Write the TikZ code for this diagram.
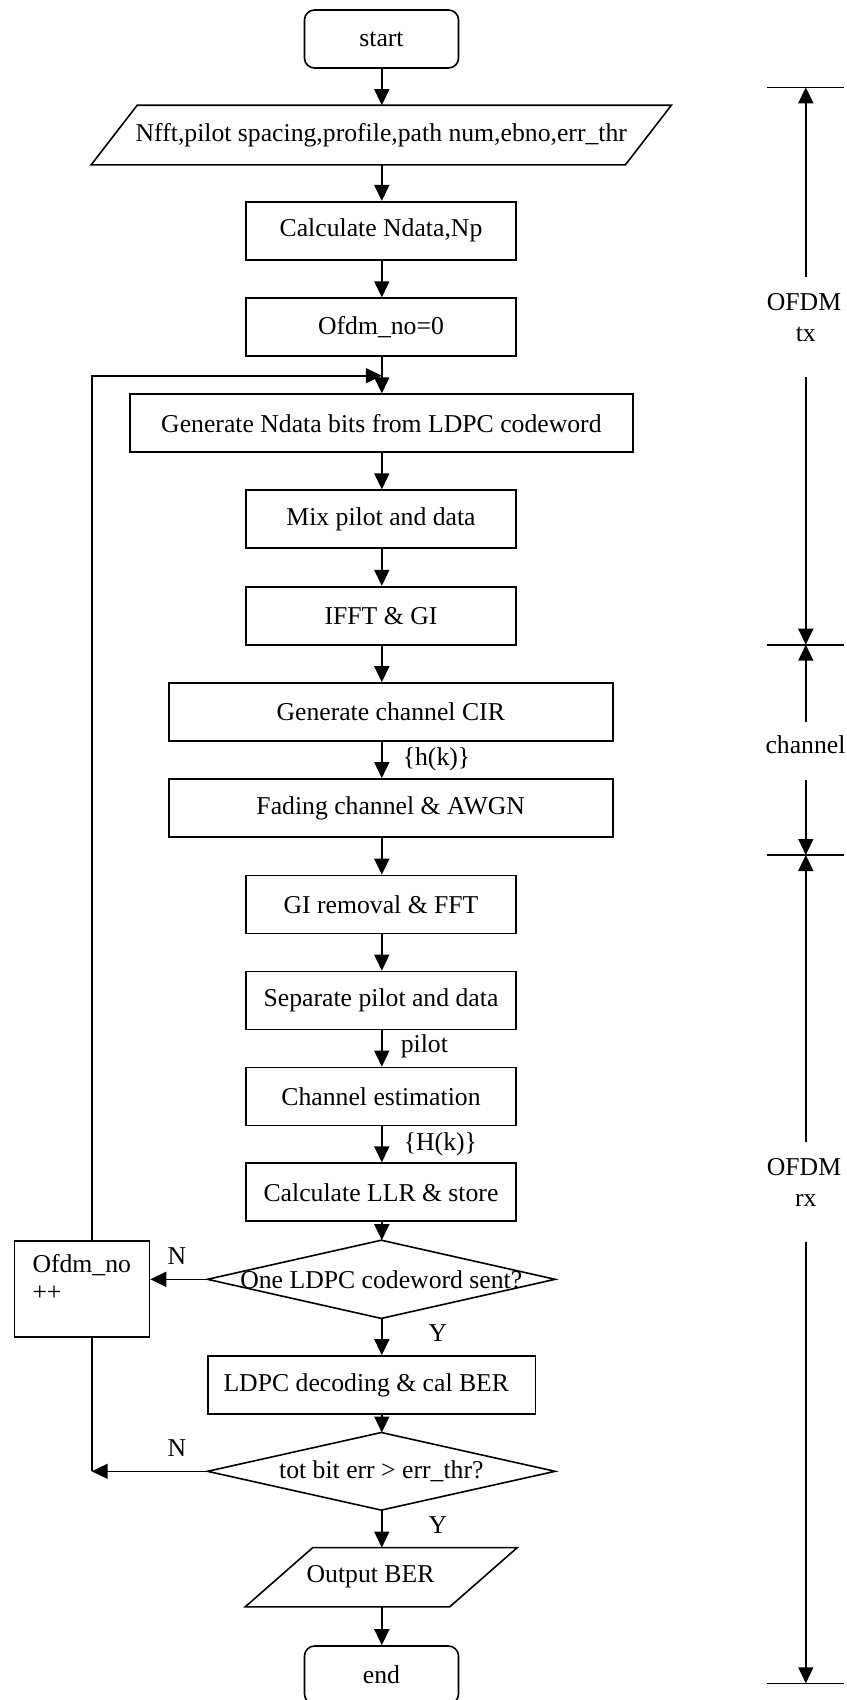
\documentclass[tikz,border=0pt]{standalone}
\usepackage{fontspec}
\setmainfont{Liberation Serif}
\usetikzlibrary{arrows.meta}
\begin{document}
\begin{tikzpicture}[x=1pt,y=-1pt,
  line width=1.6pt,
  every node/.style={font=\fontsize{25.7pt}{31.7pt}\selectfont, inner sep=0pt},
  flow/.style={-{Triangle[length=16pt,width=15pt]}},
  proc/.style={draw, minimum height=58pt},
  term/.style={draw, rounded corners=10pt, minimum width=154pt, minimum height=58pt},
  slot/.style={minimum height=58pt},
  tag/.style={anchor=base west},
  mark label/.style={anchor=base},
]
\useasboundingbox (0,0) rectangle (846,1700);

% main axis of the flow
\coordinate (axis) at (381.8,0);

% ---- flow chart nodes ----
\node[term] (start) at (381.5,39) {start};

\node[slot, minimum width=578.6pt] (in) at (381.3,135)
  {Nfft,pilot spacing,profile,path num,ebno,err\_thr};
\draw ([xshift=46pt]in.north west) -- (in.north east)
  -- ([xshift=-46pt]in.south east) -- (in.south west) -- cycle;

\node[proc, minimum width=270pt] (calc)  at (381,230.7)  {Calculate Ndata,Np};
\node[proc, minimum width=270pt] (ofdm0) at (381,327.2)  {Ofdm\_no=0};
\node[proc, minimum width=502.8pt] (gen) at (381.4,423.2) {Generate Ndata bits from LDPC codeword};
\node[proc, minimum width=270pt] (mix)   at (381,519.2)  {Mix pilot and data};
\node[proc, minimum width=270pt] (ifft)  at (381,615.7)  {IFFT \& GI};
\node[proc, minimum width=444pt] (cir)   at (390.7,712)  {Generate channel CIR};
\node[proc, minimum width=444pt] (fade)  at (390.7,807.9) {Fading channel \& AWGN};
\node[proc, minimum width=270pt] (girem) at (381,904.5)  {GI removal \& FFT};
\node[proc, minimum width=270pt] (sep)   at (381,1000.4) {Separate pilot and data};
\node[proc, minimum width=270pt] (est)   at (381,1096.4) {Channel estimation};
\node[proc, minimum width=270pt] (llr)   at (381,1192.2) {Calculate LLR \& store};

\node[minimum width=346pt, minimum height=76.6pt] (d1) at (381.3,1279.3)
  {One LDPC codeword sent?};
\draw (d1.north) -- (d1.east) -- (d1.south) -- (d1.west) -- cycle;

\node[draw, minimum width=135pt, minimum height=96pt] (inc) at (82,1288.7) {};
\node[tag] (incA) at (31.7,1272) {Ofdm\_no};
\node[tag] (incB) at (31.7,1300) {++};

\node[proc, minimum width=327.2pt] (dec) at (371.8,1385)
  {\hspace*{-11pt}LDPC decoding \& cal BER};

\node[minimum width=346pt, minimum height=76pt] (d2) at (381.3,1471.3)
  {tot bit err > err\_thr?};
\draw (d2.north) -- (d2.east) -- (d2.south) -- (d2.west) -- cycle;

\node[minimum width=270.5pt, minimum height=57.7pt] (out) at (381.25,1577.2)
  {\hspace*{-21.5pt}Output BER};
\draw ([xshift=67.6pt]out.north west) -- (out.north east)
  -- ([xshift=-67.6pt]out.south east) -- (out.south west) -- cycle;

\node[term] (end) at (381.5,1675) {end};

% ---- straight-down connectors ----
\foreach \a/\b in {start/in, in/calc, calc/ofdm0, ofdm0/gen, gen/mix, mix/ifft,
                   ifft/cir, cir/fade, fade/girem, girem/sep, sep/est, est/llr,
                   llr/d1, d1/dec, dec/d2, d2/out, out/end}
  \draw[flow] (axis |- \a.south) -- (axis |- \b.north);

% ---- loop back ----
\coordinate (loopx) at (91.7,0);
\coordinate (join) at (381.8,375.7);
\draw[flow] (loopx |- inc.north) -- (loopx |- join) -- (join);
\draw (loopx |- inc.south) -- (loopx |- d2.west);
\draw[flow] (d2.west) -- (loopx |- d2.west);
\draw[flow] (d1.west) -- (d1.west -| inc.east);

% ---- branch and signal labels ----
\node[tag] (hk) at (402,765) {\{h(k)\}};
\node[tag] (pl) at (400,1052.7) {pilot};
\node[tag] (Hk) at (403,1150) {\{H(k)\}};
\node[mark label] (n1) at (177,1264.3) {N};
\node[mark label] (y1) at (438,1341.7) {Y};
\node[mark label] (n2) at (177,1456.7) {N};
\node[mark label] (y2) at (438,1533.3) {Y};

% ---- stage brackets on the right ----
\coordinate (b1) at (805.8,87.3);
\coordinate (b2) at (805.8,644.7);
\coordinate (b3) at (805.8,855);
\coordinate (b4) at (805.8,1683.3);
\foreach \b in {b1,b2,b3,b4}
  \draw ([xshift=-38.8pt]\b) -- ([xshift=38.2pt]\b);

\node[mark label] (txA) at (804,310) {OFDM};
\node[mark label] (txB) at (805.8,341.7) {tx};
\node[mark label] (chA) at (805.5,753) {channel};
\node[mark label] (rxA) at (804,1175) {OFDM};
\node[mark label] (rxB) at (805.8,1206.7) {rx};

\coordinate (tx1) at (805.8,277.3);
\coordinate (tx2) at (805.8,376.7);
\coordinate (ch1) at (805.8,721.7);
\coordinate (ch2) at (805.8,780);
\coordinate (rx1) at (805.8,1142.3);
\coordinate (rx2) at (805.8,1241.7);
\draw[flow] (tx1) -- (b1);
\draw[flow] (tx2) -- (b2);
\draw[flow] (ch1) -- (b2);
\draw[flow] (ch2) -- (b3);
\draw[flow] (rx1) -- (b3);
\draw[flow] (rx2) -- (b4);
\end{tikzpicture}
\end{document}
